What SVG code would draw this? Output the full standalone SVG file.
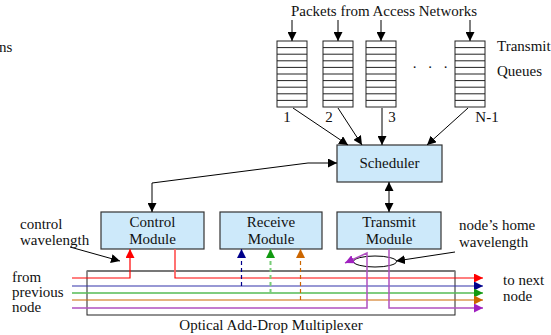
<svg xmlns="http://www.w3.org/2000/svg" width="551" height="335" viewBox="0 0 551 335">
<style>
text{font-family:"Liberation Serif","Times New Roman",serif;font-size:15px;fill:#111}
.box{fill:#cde9fa;stroke:#333;stroke-width:1.2}
.q{fill:#fff;stroke:#222;stroke-width:1}
.ql{stroke:#222;stroke-width:1}
.c{fill:none;stroke:#000;stroke-width:1}
.mid{text-anchor:middle}
</style>
<defs>
<marker id="ak" viewBox="0 0 10 10" refX="10" refY="5" markerWidth="9" markerHeight="9" markerUnits="userSpaceOnUse" orient="auto-start-reverse"><path d="M0,0 L10,5 L0,10 z" fill="#000"/></marker>
<marker id="ar" viewBox="0 0 10 10" refX="10" refY="5" markerWidth="9" markerHeight="9" markerUnits="userSpaceOnUse" orient="auto"><path d="M0,0 L10,5 L0,10 z" fill="#f00"/></marker>
<marker id="ab" viewBox="0 0 10 10" refX="10" refY="5" markerWidth="9" markerHeight="9" markerUnits="userSpaceOnUse" orient="auto"><path d="M0,0 L10,5 L0,10 z" fill="#00008b"/></marker>
<marker id="ag" viewBox="0 0 10 10" refX="10" refY="5" markerWidth="9" markerHeight="9" markerUnits="userSpaceOnUse" orient="auto"><path d="M0,0 L10,5 L0,10 z" fill="#119911"/></marker>
<marker id="ao" viewBox="0 0 10 10" refX="10" refY="5" markerWidth="9" markerHeight="9" markerUnits="userSpaceOnUse" orient="auto"><path d="M0,0 L10,5 L0,10 z" fill="#cc6600"/></marker>
<marker id="am" viewBox="0 0 10 10" refX="10" refY="5" markerWidth="9" markerHeight="9" markerUnits="userSpaceOnUse" orient="auto"><path d="M0,0 L10,5 L0,10 z" fill="#a020c0"/></marker>
<g id="cells">
<line class="ql" x1="0" y1="6.6" x2="30" y2="6.6"/><line class="ql" x1="0" y1="13.2" x2="30" y2="13.2"/>
<line class="ql" x1="0" y1="19.8" x2="30" y2="19.8"/><line class="ql" x1="0" y1="26.4" x2="30" y2="26.4"/>
<line class="ql" x1="0" y1="33" x2="30" y2="33"/><line class="ql" x1="0" y1="39.6" x2="30" y2="39.6"/>
<line class="ql" x1="0" y1="46.2" x2="30" y2="46.2"/><line class="ql" x1="0" y1="52.8" x2="30" y2="52.8"/>
<line class="ql" x1="0" y1="59.4" x2="30" y2="59.4"/>
</g>
</defs>

<text x="-1" y="52">ns</text>
<text x="384" y="16" class="mid">Packets from Access Networks</text>
<text x="497" y="51">Transmit</text>
<text x="497" y="76">Queues</text>
<text x="432" y="68" class="mid" style="letter-spacing:4px">. . .</text>

<g id="q1"><rect class="q" x="277" y="41" width="30" height="66"/><use href="#cells" x="277" y="41"/><text x="287" y="122" class="mid">1</text></g>
<g id="q2"><rect class="q" x="323" y="41" width="30" height="66"/><use href="#cells" x="323" y="41"/><text x="329" y="122" class="mid">2</text></g>
<g id="q3"><rect class="q" x="366" y="41" width="30" height="66"/><use href="#cells" x="366" y="41"/><text x="392" y="122" class="mid">3</text></g>
<g id="qn"><rect class="q" x="455" y="41" width="30" height="66"/><use href="#cells" x="455" y="41"/><text x="487" y="122" class="mid">N-1</text></g>

<g id="scheduler"><rect class="box" x="337" y="145" width="105" height="37"/><text x="389.5" y="168" class="mid">Scheduler</text></g>
<g id="control"><rect class="box" x="101" y="212" width="103" height="37"/><text x="152.5" y="227" class="mid">Control</text><text x="152.5" y="244" class="mid">Module</text></g>
<g id="receive"><rect class="box" x="220" y="212" width="102" height="37"/><text x="271" y="227" class="mid">Receive</text><text x="271" y="244" class="mid">Module</text></g>
<g id="transmit"><rect class="box" x="337" y="212" width="104" height="37"/><text x="389" y="227" class="mid">Transmit</text><text x="389" y="244" class="mid">Module</text></g>

<g id="oadm">
<rect x="87" y="271" width="368" height="44" fill="none" stroke="#222" stroke-width="1"/>
<line x1="87" y1="271" x2="455" y2="271" stroke="#777" stroke-width="2"/>
<text x="271" y="330" class="mid">Optical Add-Drop Multiplexer</text>
</g>

<text x="20" y="229">control</text>
<text x="20" y="245">wavelength</text>
<text x="12" y="282">from</text>
<text x="12" y="297">previous</text>
<text x="12" y="312">node</text>
<text x="459" y="230">node’s home</text>
<text x="459" y="247">wavelength</text>
<text x="503" y="285">to next</text>
<text x="503" y="301">node</text>

<g id="connectors">
<line class="c" x1="292" y1="20" x2="292" y2="41" marker-end="url(#ak)"/>
<line class="c" x1="338" y1="20" x2="338" y2="41" marker-end="url(#ak)"/>
<line class="c" x1="381" y1="20" x2="381" y2="41" marker-end="url(#ak)"/>
<line class="c" x1="470" y1="20" x2="470" y2="41" marker-end="url(#ak)"/>
<line class="c" x1="293" y1="108" x2="348" y2="145" marker-end="url(#ak)"/>
<line class="c" x1="338" y1="108" x2="362" y2="145" marker-end="url(#ak)"/>
<line class="c" x1="382" y1="108" x2="382" y2="145" marker-end="url(#ak)"/>
<line class="c" x1="468" y1="108" x2="427" y2="145" marker-end="url(#ak)"/>
<polyline class="c" points="152,212 152,183 308,163 337,163" marker-start="url(#ak)" marker-end="url(#ak)"/>
<line class="c" x1="389" y1="182" x2="389" y2="212" marker-start="url(#ak)" marker-end="url(#ak)"/>
<line class="c" x1="70" y1="247" x2="120" y2="261" marker-end="url(#ak)"/>
<line class="c" x1="455" y1="252" x2="396" y2="261" marker-end="url(#ak)"/>
<ellipse cx="375" cy="261.5" rx="21.5" ry="5.5" fill="none" stroke="#000" stroke-width="1"/>

<polyline points="72,278 130,278 130,249" fill="none" stroke="#f00" stroke-width="1.2" marker-end="url(#ar)"/>
<polyline points="175,249 175,278 483,278" fill="none" stroke="#f00" stroke-width="1.2" marker-end="url(#ar)"/>
<line x1="175" y1="249" x2="175" y2="277" stroke="#ff7777" stroke-width="1.4"/>
<line x1="72" y1="286" x2="483" y2="286" stroke="#3333aa" stroke-width="1.2" marker-end="url(#ab)"/>
<line x1="72" y1="293" x2="483" y2="293" stroke="#55bb55" stroke-width="1.5" marker-end="url(#ag)"/>
<line x1="72" y1="300" x2="483" y2="300" stroke="#cc6600" stroke-width="1.2" marker-end="url(#ao)"/>
<polyline points="72,308 367,308 367,253 345,263" fill="none" stroke="#b050c0" stroke-width="1.5" marker-end="url(#am)"/>
<polyline points="389,249 389,308 483,308" fill="none" stroke="#b050c0" stroke-width="1.5" marker-end="url(#am)"/>

<line x1="241.5" y1="286" x2="241.5" y2="249" stroke="#00008b" stroke-width="1.2" stroke-dasharray="4,3" marker-end="url(#ab)"/>
<line x1="270.5" y1="293" x2="270.5" y2="249" stroke="#77cc77" stroke-width="2" stroke-dasharray="4,3" marker-end="url(#ag)"/>
<line x1="300.5" y1="300" x2="300.5" y2="249" stroke="#cc6600" stroke-width="1.2" stroke-dasharray="4,3" marker-end="url(#ao)"/>
</g>
</svg>
